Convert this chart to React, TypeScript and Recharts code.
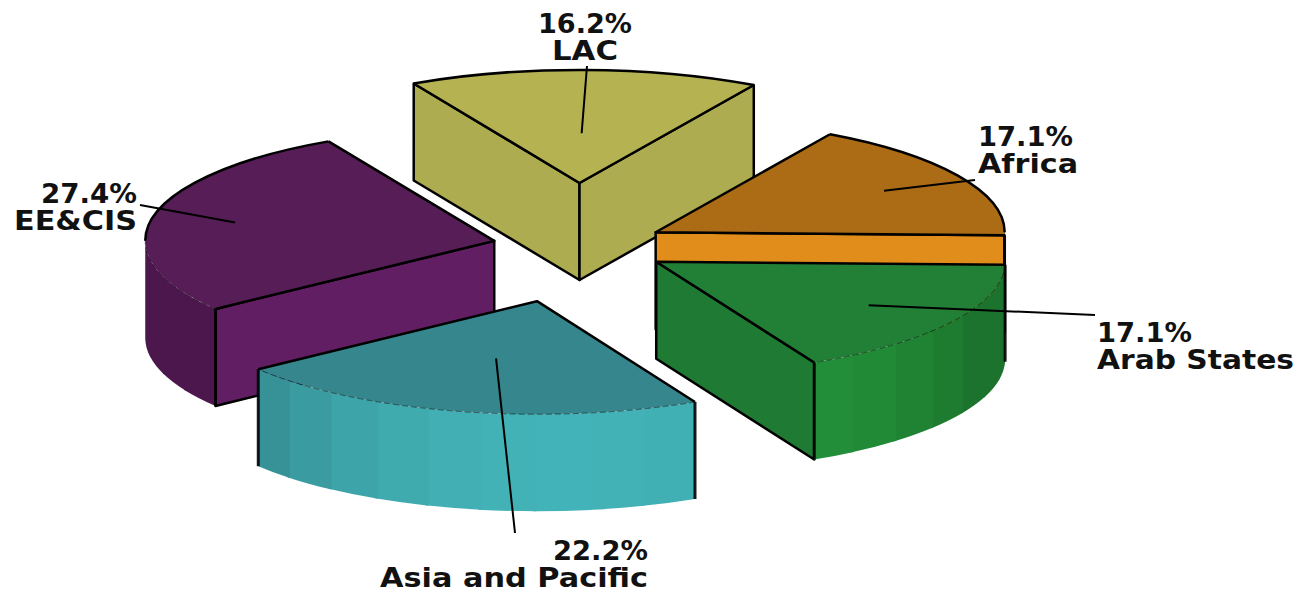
import { PieChart, Pie } from 'recharts';

const WIDTH = 1297;
const HEIGHT = 593;

// slices in paint order: back ones first so the front ones overlap them
const REGIONS = ['EE&CIS', 'LAC', 'Africa', 'Arab States', 'Asia and Pacific'];
const SHARES = [27.4, 16.2, 17.1, 17.1, 22.2];

const TOP_COLORS = ['#561d57', '#b5b252', '#ac6b15', '#218036', '#35878d'];
const SIDE_COLORS = ['#611e62', '#aeac50', '#e18d1c', '#1f7a33', '#40b0b5'];
const RIM_COLORS = ['#611e62', '#aeac50', '#e18d1c', '#24943b', '#42b3b8'];

// how far each slice is pulled out of the pie
const PULL = [87, 196, 88, 90, 174];
const PULL_SKEW = [0.8, 0.8, 0.8, 0.8, -1.1];

const PIE_X = 579.5;
const PIE_Y = 246.5;
const RADIUS = 349;
const TILT = 0.324;
const DEPTH = 97;
const FIRST_ANGLE = 217;

// leader line: share of the radius where it starts, and where it ends
const LEADER_START = [0.76, 0.44, 0.75, 0.72, 0.52];
const LEADER_END = [
  [140, 205],
  [587, 66],
  [975, 180],
  [1095, 315],
  [515, 533],
];

const LABEL_ANCHOR = ['end', 'middle', 'start', 'start', 'end'];
const LABEL_X = [137, 585, 978, 1097, 648];
const LABEL_Y = [203, 33, 146, 342, 559.5];
const VALUE_WIDTH = [96, 94, 95, 95, 95];
const NAME_WIDTH = [123, 66, 100, 197, 268];

const tableData = REGIONS.map((name, i) => ({ name, value: SHARES[i] }));

const rad = (deg: number) => (deg * Math.PI) / 180;

function shade(hex: string, f: number) {
  const n = parseInt(hex.slice(1), 16);
  const c = [n >> 16, (n >> 8) & 255, n & 255].map((v) => Math.round(v * f));
  return `rgb(${c[0]},${c[1]},${c[2]})`;
}

// rim is brightest towards the viewer, falling off to the sides
function rimShade(angle: number) {
  const diff = Math.abs(((angle + 85 + 900) % 360) - 180);
  return Math.max(0.78, 1 - 0.22 * Math.pow(diff / 60, 2));
}

function apexOf(cx: number, cy: number, midAngle: number, index: number) {
  const a = rad(midAngle + PULL_SKEW[index]);
  return {
    x: cx + PULL[index] * Math.cos(a),
    y: cy - PULL[index] * TILT * Math.sin(a),
  };
}

function Slice3D(props: any) {
  const { cx, cy, outerRadius, startAngle, endAngle, midAngle, index } = props;
  const apex = apexOf(cx, cy, midAngle, index);
  const rx = outerRadius;
  const ry = outerRadius * TILT;
  const at = (deg: number) => ({
    x: apex.x + rx * Math.cos(rad(deg)),
    y: apex.y - ry * Math.sin(rad(deg)),
  });
  const s = at(startAngle);
  const e = at(endAngle);

  const radialWall = (p: { x: number; y: number }) => (
    <path
      d={`M${apex.x},${apex.y} L${p.x},${p.y} L${p.x},${p.y + DEPTH} L${apex.x},${apex.y + DEPTH} Z`}
      fill={SIDE_COLORS[index]}
      stroke="#000"
      strokeWidth={2.5}
      strokeLinejoin="round"
    />
  );

  // rim is only seen on the front half of the ellipse
  const rims: any[] = [];
  const edges: any[] = [];
  [0, 360].forEach((turn) => {
    const hi = Math.min(startAngle, turn);
    const lo = Math.max(endAngle, turn - 180);
    if (hi <= lo) return;
    const step = 9;
    for (let a = hi; a > lo; a -= step) {
      const b = Math.max(a - step - 0.6, lo);
      const p0 = at(a);
      const p1 = at(b);
      rims.push(
        <path
          key={`rim-${turn}-${a}`}
          d={`M${p0.x},${p0.y} A${rx},${ry} 0 0 1 ${p1.x},${p1.y} L${p1.x},${p1.y + DEPTH} A${rx},${ry} 0 0 0 ${p0.x},${p0.y + DEPTH} Z`}
          fill={shade(RIM_COLORS[index], rimShade(a - step / 2))}
        />,
      );
    }
    const from = at(hi);
    const to = at(lo);
    edges.push(
      <path
        key={`front-${turn}`}
        d={`M${from.x},${from.y} A${rx},${ry} 0 0 1 ${to.x},${to.y}`}
        fill="none"
        stroke="#000"
        strokeOpacity={0.5}
        strokeWidth={1}
        strokeDasharray="6 3"
      />,
    );
    if (hi % 180 !== 0) {
      edges.push(<line key={`hi-${turn}`} x1={from.x} y1={from.y} x2={from.x} y2={from.y + DEPTH} stroke="#000" strokeOpacity={0.9} strokeWidth={3} />);
    }
    if (lo % 180 !== 0) {
      edges.push(<line key={`lo-${turn}`} x1={to.x} y1={to.y} x2={to.x} y2={to.y + DEPTH} stroke="#000" strokeOpacity={0.9} strokeWidth={3} />);
    }
  });

  // back half of the outer arc gets a solid outline
  const hiBack = Math.min(startAngle, 180);
  const loBack = Math.max(endAngle, 0);
  const backFrom = at(hiBack);
  const backTo = at(loBack);

  return (
    <g>
      {Math.cos(rad(startAngle)) < 0 && radialWall(s)}
      {Math.cos(rad(endAngle)) > 0 && radialWall(e)}
      {rims}
      <path d={`M${apex.x},${apex.y} L${s.x},${s.y} A${rx},${ry} 0 0 1 ${e.x},${e.y} Z`} fill={TOP_COLORS[index]} />
      <path d={`M${s.x},${s.y} L${apex.x},${apex.y} L${e.x},${e.y}`} fill="none" stroke="#000" strokeWidth={2.5} strokeLinejoin="round" />
      {hiBack > loBack && (
        <path d={`M${backFrom.x},${backFrom.y} A${rx},${ry} 0 0 1 ${backTo.x},${backTo.y}`} fill="none" stroke="#000" strokeWidth={2.5} />
      )}
      {edges}
    </g>
  );
}

function SliceLabel(props: any) {
  const { cx, cy, midAngle, outerRadius, index, value, name } = props;
  const apex = apexOf(cx, cy, midAngle, index);
  const r = outerRadius * LEADER_START[index];
  const x1 = apex.x + r * Math.cos(rad(midAngle));
  const y1 = apex.y - r * TILT * Math.sin(rad(midAngle));
  const [x2, y2] = LEADER_END[index];
  const textProps = {
    x: LABEL_X[index],
    textAnchor: LABEL_ANCHOR[index],
    fontFamily: '"DejaVu Sans", sans-serif',
    fontWeight: 700,
    fontSize: 27,
    fill: '#111',
    lengthAdjust: 'spacingAndGlyphs',
  } as any;
  return (
    <g>
      <line x1={x1} y1={y1} x2={x2} y2={y2} stroke="#000" strokeWidth={2} />
      <text {...textProps} y={LABEL_Y[index]} textLength={VALUE_WIDTH[index]}>
        {`${value.toFixed(1)}%`}
      </text>
      <text {...textProps} y={LABEL_Y[index] + 27} textLength={NAME_WIDTH[index]}>
        {name}
      </text>
    </g>
  );
}

export default function App() {
  return (
    <div style={{ position: 'fixed', left: 0, top: 0, width: WIDTH, height: HEIGHT, background: '#fff' }}>
      <PieChart width={WIDTH} height={HEIGHT} margin={{ top: 0, right: 0, bottom: 0, left: 0 }}>
        <Pie
          data={tableData}
          dataKey="value"
          nameKey="name"
          cx={PIE_X}
          cy={PIE_Y}
          innerRadius={0}
          outerRadius={RADIUS}
          startAngle={FIRST_ANGLE}
          endAngle={FIRST_ANGLE - 360}
          shape={Slice3D}
          label={SliceLabel}
          labelLine={false}
          isAnimationActive={false}
        />
      </PieChart>
    </div>
  );
}
